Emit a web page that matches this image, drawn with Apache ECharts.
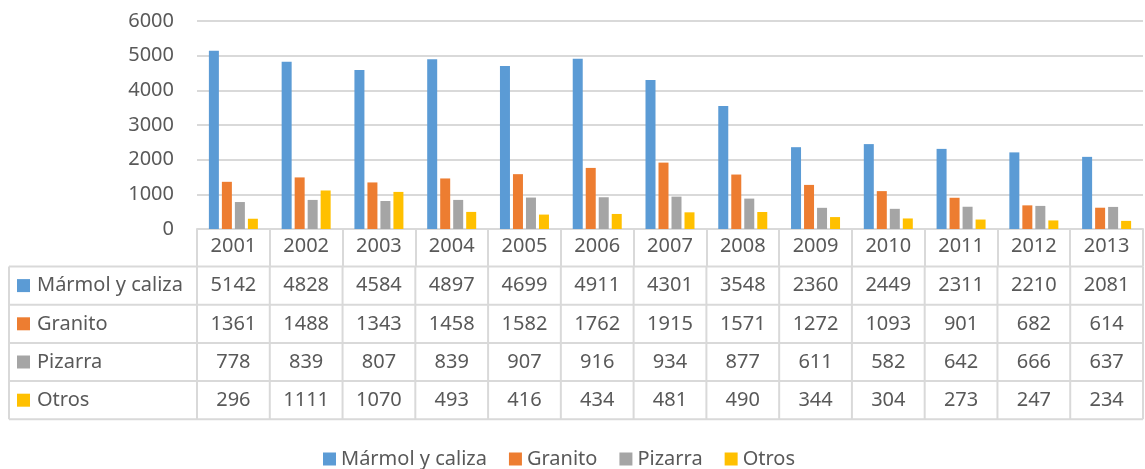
<!DOCTYPE html>
<html>
<head>
<meta charset="utf-8">
<script src="https://cdn.jsdelivr.net/npm/echarts@6/dist/echarts.min.js"></script>
<style>
  html, body { margin: 0; padding: 0; background: #fff; }
  #chart { width: 1145px; height: 469px; }
</style>
</head>
<body>
<div id="chart"></div>
<script>
const years = ['2001', '2002', '2003', '2004', '2005', '2006', '2007', '2008', '2009', '2010', '2011', '2012', '2013'];
const seriesNames = ['Mármol y caliza', 'Granito', 'Pizarra', 'Otros'];
const marmol = [5142, 4828, 4584, 4897, 4699, 4911, 4301, 3548, 2360, 2449, 2311, 2210, 2081];
const granito = [1361, 1488, 1343, 1458, 1582, 1762, 1915, 1571, 1272, 1093, 901, 682, 614];
const pizarra = [778, 839, 807, 839, 907, 916, 934, 877, 611, 582, 642, 666, 637];
const otros = [296, 1111, 1070, 493, 416, 434, 481, 490, 344, 304, 273, 247, 234];
const yMin = 0, yMax = 6000, yStep = 1000;

const colors = ['#5b9bd5', '#ed7d31', '#a5a5a5', '#ffc000'];
const allSeries = [marmol, granito, pizarra, otros];
const font = '"Noto Sans", sans-serif';
const textColor = '#595959';
const lineColor = '#d9d9d9';

const dom = document.getElementById('chart');
const chart = echarts.init(dom);

// header row height and data row height of the table under the axis
const headH = 37.5;
const rowH = 38.2;
const tableLeft = 9;

chart.setOption({
  backgroundColor: '#fff',
  animation: false,
  color: colors,
  textStyle: { fontFamily: font },
  grid: { top: 21, bottom: 240, left: 197, right: 2 },
  legend: {
    data: seriesNames,
    left: 318,
    top: 444,
    itemWidth: 13,
    itemHeight: 13,
    itemGap: 22,
    icon: 'rect',
    textStyle: { color: textColor, fontSize: 20, fontFamily: font }
  },
  xAxis: {
    type: 'category',
    data: years,
    axisLine: { lineStyle: { color: lineColor, width: 2 } },
    axisTick: { show: true, length: headH, lineStyle: { color: lineColor, width: 2 } },
    axisLabel: { color: textColor, fontSize: 20, fontFamily: font, margin: 7 }
  },
  yAxis: {
    type: 'value',
    min: yMin,
    max: yMax,
    interval: yStep,
    axisLine: { show: false },
    axisTick: { show: false },
    axisLabel: { color: textColor, fontSize: 20, fontFamily: font, margin: 23, formatter: v => String(v) },
    splitLine: { lineStyle: { color: lineColor, width: 2 } }
  },
  series: seriesNames.map((name, i) => ({
    name,
    type: 'bar',
    data: allSeries[i],
    barWidth: 10,
    barGap: '30%'
  }))
});

// data table drawn below the axis
function buildTable() {
  const x0 = chart.convertToPixel({ xAxisIndex: 0 }, 0);
  const x1 = chart.convertToPixel({ xAxisIndex: 0 }, 1);
  const cw = x1 - x0;
  const baseY = chart.convertToPixel({ yAxisIndex: 0 }, 0);
  const gridLeft = x0 - cw / 2;
  const gridRight = gridLeft + cw * years.length;
  const top = baseY + headH;
  const bottom = top + rowH * seriesNames.length;
  const els = [];
  const line = (a, b, c, d) => els.push({
    type: 'line', silent: true,
    shape: { x1: a, y1: b, x2: c, y2: d },
    style: { stroke: lineColor, lineWidth: 2 }
  });

  for (let r = 0; r <= seriesNames.length; r++) {
    line(tableLeft, top + r * rowH, gridRight, top + r * rowH);
  }
  line(tableLeft, top, tableLeft, bottom);
  for (let c = 0; c <= years.length; c++) {
    line(gridLeft + c * cw, top, gridLeft + c * cw, bottom);
  }

  seriesNames.forEach((name, r) => {
    const cy = top + r * rowH + rowH / 2;
    els.push({
      type: 'rect', silent: true,
      shape: { x: 17, y: cy - 6.5, width: 13, height: 13 },
      style: { fill: colors[r] }
    });
    els.push({
      type: 'text', silent: true,
      style: { text: name, x: 37, y: cy, align: 'left', verticalAlign: 'middle',
        fontSize: 20, fontFamily: font, fill: textColor }
    });
    allSeries[r].forEach((v, c) => {
      els.push({
        type: 'text', silent: true,
        style: { text: String(v), x: x0 + c * cw, y: cy, align: 'center', verticalAlign: 'middle',
          fontSize: 20, fontFamily: font, fill: textColor }
      });
    });
  });

  chart.setOption({ graphic: els });
}

buildTable();
window.addEventListener('resize', () => { chart.resize(); buildTable(); });
</script>
</body>
</html>
